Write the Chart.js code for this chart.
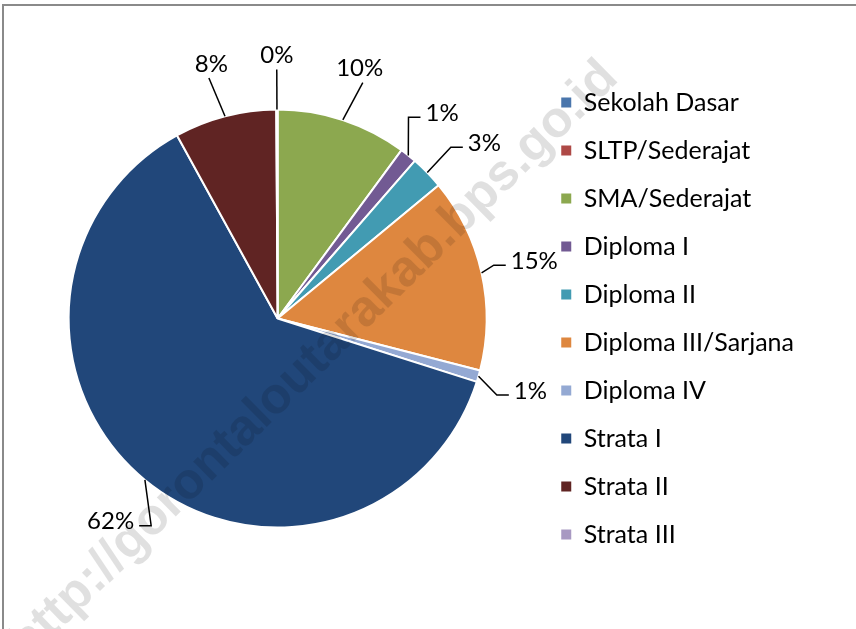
<!DOCTYPE html>
<html>
<head>
<meta charset="utf-8">
<script src="https://cdn.jsdelivr.net/npm/chart.js@4.4.1/dist/chart.umd.min.js"></script>
<style>
    html, body { margin: 0; padding: 0; background: #fff; }
    #wrap { position: relative; width: 856px; height: 629px; overflow: hidden; }
</style>
</head>
<body>
<div id="wrap"><canvas id="pieChart" width="856" height="629"></canvas></div>
<script>
const categories = ['Sekolah Dasar', 'SLTP/Sederajat', 'SMA/Sederajat', 'Diploma I', 'Diploma II',
    'Diploma III/Sarjana', 'Diploma IV', 'Strata I', 'Strata II', 'Strata III'];
// share of each education level, in percent
const shares = [0, 0, 10.1, 1.3, 2.6, 15.0, 0.9, 62.1, 7.9, 0.1];
const sliceColors = ['#4A76AC', '#AE4946', '#8CA84F', '#725A93', '#429BB2',
    '#DE873F', '#94A9D3', '#21477A', '#602423', '#A899C2'];
const watermark = 'http://gorontaloutarakab.bps.go.id';

const fontFamily = 'Lato, "Open Sans", sans-serif';

// grey frame line along top and left edge
const frame = {
    id: 'frame',
    beforeDraw: function(chart) {
        const ctx = chart.ctx;
        ctx.save();
        ctx.strokeStyle = '#8a8a8a';
        ctx.lineWidth = 2;
        ctx.beginPath();
        ctx.moveTo(3, chart.height);
        ctx.lineTo(3, 5);
        ctx.lineTo(chart.width, 5);
        ctx.stroke();
        ctx.restore();
    }
};

// percent labels outside the pie with leader lines
const sliceLabels = {
    id: 'sliceLabels',
    afterDatasetsDraw: function(chart) {
        const ctx = chart.ctx;
        const meta = chart.getDatasetMeta(0);
        const total = shares.reduce(function(a, b) { return a + b; }, 0);
        const placed = [];
        ctx.save();
        ctx.font = '24px ' + fontFamily;
        ctx.fillStyle = '#000';
        ctx.strokeStyle = '#000';
        ctx.lineWidth = 1.5;
        ctx.textAlign = 'center';
        ctx.textBaseline = 'middle';
        meta.data.forEach(function(arc, i) {
            if (!shares[i]) return;
            const p = arc.getProps(['x', 'y', 'startAngle', 'endAngle', 'outerRadius'], true);
            let ang = (p.startAngle + p.endAngle) / 2;
            const text = Math.round(shares[i] / total * 100) + '%';
            const w = ctx.measureText(text).width;
            const h = 22;
            let lr = p.outerRadius + 54;
            let lx, ly, box;
            for (let step = 0; step < 14; step++) {
                lx = p.x + Math.cos(ang) * lr;
                ly = p.y + Math.sin(ang) * lr;
                box = { l: lx - w / 2 - 6, r: lx + w / 2 + 6, t: ly - h / 2 - 3, b: ly + h / 2 + 3 };
                const hit = placed.some(function(o) {
                    return box.l < o.r && box.r > o.l && box.t < o.b && box.b > o.t;
                });
                if (!hit) break;
                // nudge clockwise and outward until it is clear
                lr += 4;
                ang += 0.035;
            }
            placed.push(box);

            const cos = Math.cos(ang), sin = Math.sin(ang);
            const mid = (p.startAngle + p.endAngle) / 2;
            const ex = p.x + Math.cos(mid) * p.outerRadius;
            const ey = p.y + Math.sin(mid) * p.outerRadius;
            ctx.beginPath();
            ctx.moveTo(ex, ey);
            if (Math.abs(cos) > 0.35) {
                const side = cos > 0 ? 1 : -1;
                const endX = lx - side * (w / 2 + 5);
                ctx.lineTo(endX - side * 12, ly + 4);
                ctx.lineTo(endX, ly + 4);
            } else {
                const side = sin > 0 ? 1 : -1;
                ctx.lineTo(lx + cos * 10, ly - side * (h / 2 + 3));
            }
            ctx.stroke();
            ctx.fillText(text, lx, ly);
        });
        ctx.restore();
    }
};

// diagonal source watermark
const stamp = {
    id: 'stamp',
    afterDraw: function(chart) {
        const ctx = chart.ctx;
        ctx.save();
        ctx.translate(610, 70);
        ctx.rotate(-44.5 * Math.PI / 180);
        ctx.font = 'bold 50px "Liberation Sans", Arial, sans-serif';
        const size = 50 * 830 / ctx.measureText(watermark).width;
        ctx.font = 'bold ' + size.toFixed(1) + 'px "Liberation Sans", Arial, sans-serif';
        ctx.fillStyle = 'rgba(0, 0, 0, 0.12)';
        ctx.textAlign = 'right';
        ctx.textBaseline = 'middle';
        ctx.fillText(watermark, 0, 0);
        ctx.restore();
    }
};

document.addEventListener('DOMContentLoaded', function() {
    const ctx = document.getElementById('pieChart').getContext('2d');

    new Chart(ctx, {
        type: 'pie',
        data: {
            labels: categories,
            datasets: [{
                data: shares,
                backgroundColor: sliceColors,
                borderColor: '#ffffff',
                borderWidth: 2,
                radius: 209
            }]
        },
        options: {
            responsive: false,
            animation: false,
            layout: {
                padding: { left: 17, right: 52, top: 8, bottom: 0 }
            },
            plugins: {
                legend: {
                    position: 'right',
                    labels: {
                        boxWidth: 10,
                        boxHeight: 10,
                        padding: 23,
                        color: '#000',
                        font: { family: fontFamily, size: 25 },
                        generateLabels: function(chart) {
                            const items = Chart.overrides.pie.plugins.legend.labels.generateLabels(chart);
                            items.forEach(function(it) {
                                it.lineWidth = 0;
                                it.strokeStyle = it.fillStyle;
                                it.hidden = false;
                            });
                            return items;
                        }
                    }
                },
                tooltip: { enabled: false }
            }
        },
        plugins: [frame, sliceLabels, stamp]
    });
});
</script>
</body>
</html>
